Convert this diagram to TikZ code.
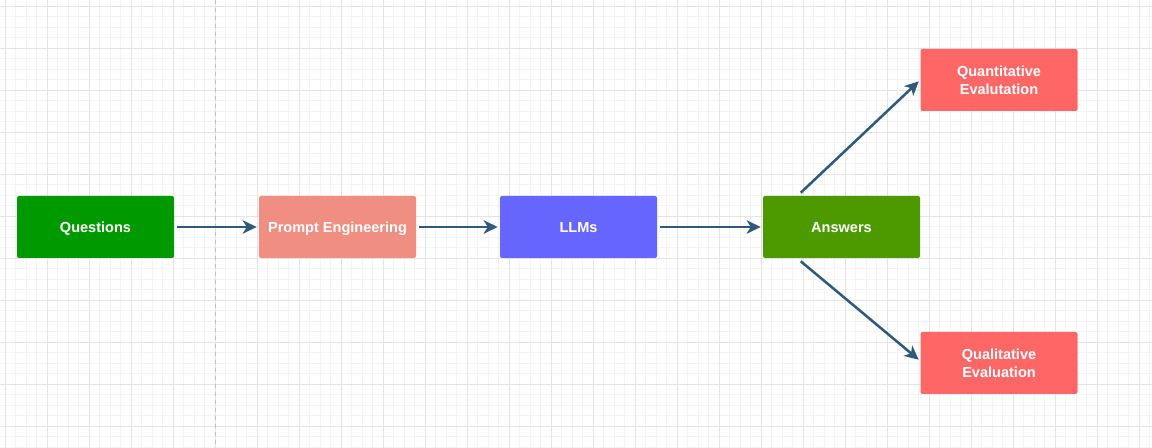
\documentclass[tikz,border=0pt]{standalone}
\usepackage{fontspec}
\setmainfont{Liberation Sans}
\usetikzlibrary{arrows.meta}
\definecolor{qgreen}{HTML}{009900}
\definecolor{promptc}{HTML}{F08E81}
\definecolor{llmc}{HTML}{6666FF}
\definecolor{agreen}{HTML}{4D9900}
\definecolor{evalc}{HTML}{FF6666}
\definecolor{arrowc}{HTML}{2F5A7C}
\definecolor{minorc}{HTML}{F3F3F3}
\definecolor{majorc}{HTML}{E3E3E3}
\begin{document}
\begin{tikzpicture}[x=0.75pt, y=-0.75pt,
    box/.style={rectangle, rounded corners=1.5pt, minimum width=117.75pt, minimum height=46.5pt,
        text=white, align=center, inner sep=0pt, font=\fontsize{10.9}{13.5}\selectfont\bfseries},
    oneline/.style={text height=7.8pt, text depth=0pt},
    link/.style={draw=arrowc, line width=1.9pt, -{Stealth[length=10.5pt,width=10pt,inset=3pt]}}]
\useasboundingbox (0,0) rectangle (1152,448);
\fill[white] (0,0) rectangle (1152,448);
% grid
\foreach \i in {0,...,110} {
    \draw[minorc, line width=0.6pt] (5.3+10.5*\i,0) -- (5.3+10.5*\i,448);
}
\foreach \j in {0,...,42} {
    \draw[minorc, line width=0.6pt] (0,6+10.5*\j) -- (1152,6+10.5*\j);
}
\foreach \i in {0,...,27} {
    \draw[majorc, line width=0.6pt] (5.3+42*\i,0) -- (5.3+42*\i,448);
}
\foreach \j in {0,...,10} {
    \draw[majorc, line width=0.6pt] (0,6+42*\j) -- (1152,6+42*\j);
}
\draw[gray!50, dashed, line width=0.75pt] (215.3,0) -- (215.3,448);

\node[box, oneline, fill=qgreen] (quest) at (95.5,227) {Questions};
\node[box, oneline, fill=promptc] (prompt) at (337.5,227) {Prompt Engineering};
\node[box, oneline, fill=llmc] (llm) at (578.5,227) {LLMs};
\node[box, oneline, fill=agreen] (ans) at (841.5,227) {Answers};
\node[box, fill=evalc] (quant) at (999,80) {Quantitative\\Evalutation};
\node[box, fill=evalc] (qual) at (999,363) {Qualitative\\Evaluation};

\draw[link, shorten <=2.25pt, shorten >=1.5pt] (quest) -- (prompt);
\draw[link, shorten <=2.25pt, shorten >=1.5pt] (prompt) -- (llm);
\draw[link, shorten <=2.25pt, shorten >=1.5pt] (llm) -- (ans);
\draw[link, shorten >=1.5pt] ([xshift=28.5pt, yshift=2.25pt]ans.north west) -- (quant.west);
\draw[link, shorten >=1.5pt] ([xshift=28.5pt, yshift=-2.25pt]ans.south west) -- ([yshift=1.5pt]qual.west);
\end{tikzpicture}
\end{document}
